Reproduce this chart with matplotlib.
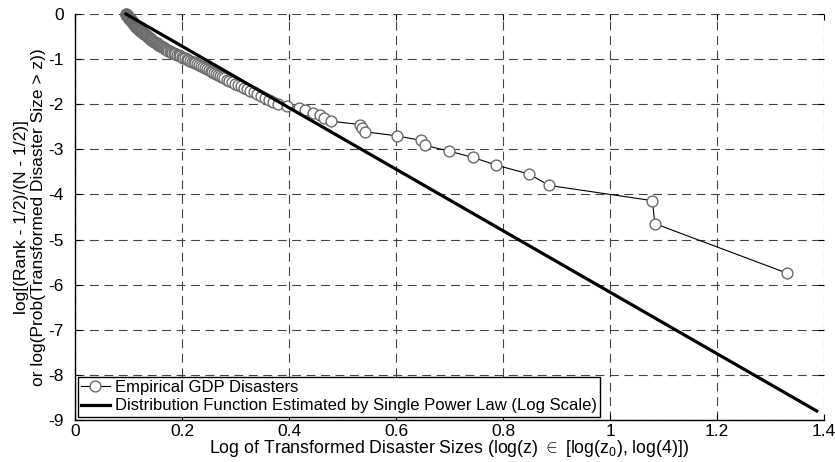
import matplotlib
matplotlib.use("Agg")
import matplotlib.pyplot as plt

plt.rcParams['font.family'] = ['Liberation Sans', 'DejaVu Sans']
plt.rcParams['axes.unicode_minus'] = False
plt.rcParams['mathtext.fontset'] = 'custom'
plt.rcParams['mathtext.rm'] = 'Liberation Sans'
plt.rcParams['mathtext.it'] = 'Liberation Sans'

# Empirical GDP disasters: log transformed size (x) and log empirical survival (y), ascending x
emp_x = [
    0.0953, 0.0957, 0.0962, 0.0966, 0.0971, 0.0975, 0.0980, 0.0984, 0.0988, 0.0993,
    0.0998, 0.1003, 0.1007, 0.1012, 0.1017, 0.1022, 0.1026, 0.1031, 0.1036, 0.1041,
    0.1046, 0.1051, 0.1056, 0.1061, 0.1066, 0.1071, 0.1077, 0.1082, 0.1087, 0.1092,
    0.1098, 0.1103, 0.1109, 0.1114, 0.1120, 0.1125, 0.1130, 0.1137, 0.1142, 0.1148,
    0.1154, 0.1160, 0.1162, 0.1171, 0.1181, 0.1190, 0.1199, 0.1208, 0.1218, 0.1228,
    0.1237, 0.1247, 0.1257, 0.1266, 0.1276, 0.1287, 0.1297, 0.1307, 0.1318, 0.1328,
    0.1339, 0.1350, 0.1360, 0.1371, 0.1382, 0.1394, 0.1405, 0.1416, 0.1428, 0.1440,
    0.1452, 0.1467, 0.1481, 0.1496, 0.1512, 0.1528, 0.1545, 0.1560, 0.1577, 0.1594,
    0.1611, 0.1628, 0.1645, 0.1663, 0.1680, 0.1698, 0.1716, 0.1742, 0.1767, 0.1795,
    0.1822, 0.1849, 0.1877, 0.1906, 0.1935, 0.1964, 0.1993, 0.2024, 0.2055, 0.2086,
    0.2119, 0.2151, 0.2184, 0.2217, 0.2251, 0.2286, 0.2322, 0.2359, 0.2395, 0.2433,
    0.2470, 0.2501, 0.2534, 0.2566, 0.2601, 0.2634, 0.2670, 0.2707, 0.2744, 0.2786,
    0.2835, 0.2885, 0.2936, 0.2990, 0.3044, 0.3099, 0.3157, 0.3218, 0.3279, 0.3344,
    0.3411, 0.3479, 0.3551, 0.3627, 0.3706, 0.3800, 0.3960, 0.4180, 0.4300, 0.4450,
    0.4580, 0.4660, 0.4790, 0.5330, 0.5360, 0.5420, 0.6020, 0.6470, 0.6540, 0.6990,
    0.7440, 0.7870, 0.8490, 0.8860, 1.0790, 1.0840, 1.3310,
]
emp_y = [
    0.000, -0.006, -0.013, -0.019, -0.026, -0.032, -0.039, -0.046, -0.052, -0.059,
    -0.066, -0.073, -0.080, -0.087, -0.094, -0.101, -0.108, -0.115, -0.122, -0.129,
    -0.137, -0.144, -0.151, -0.159, -0.166, -0.174, -0.182, -0.189, -0.197, -0.205,
    -0.213, -0.221, -0.229, -0.237, -0.245, -0.253, -0.261, -0.270, -0.278, -0.287,
    -0.295, -0.304, -0.312, -0.321, -0.330, -0.339, -0.348, -0.357, -0.366, -0.376,
    -0.385, -0.394, -0.404, -0.413, -0.423, -0.433, -0.443, -0.453, -0.463, -0.473,
    -0.484, -0.494, -0.504, -0.515, -0.526, -0.537, -0.548, -0.559, -0.570, -0.581,
    -0.593, -0.605, -0.616, -0.628, -0.640, -0.652, -0.665, -0.677, -0.690, -0.703,
    -0.716, -0.729, -0.742, -0.756, -0.769, -0.783, -0.797, -0.812, -0.826, -0.841,
    -0.856, -0.871, -0.886, -0.902, -0.918, -0.934, -0.950, -0.967, -0.984, -1.001,
    -1.019, -1.037, -1.055, -1.073, -1.092, -1.111, -1.131, -1.151, -1.171, -1.192,
    -1.214, -1.235, -1.258, -1.280, -1.304, -1.327, -1.352, -1.377, -1.402, -1.429,
    -1.456, -1.484, -1.512, -1.542, -1.572, -1.603, -1.635, -1.669, -1.703, -1.739,
    -1.776, -1.814, -1.854, -1.896, -1.940, -1.985, -2.033, -2.083, -2.135, -2.191,
    -2.250, -2.312, -2.379, -2.450, -2.527, -2.611, -2.702, -2.802, -2.913, -3.038,
    -3.181, -3.348, -3.549, -3.800, -4.137, -4.648, -5.746,
]

# Single power law fit (log scale): endpoints log(z0) and log(4)
fit_x = [0.0953, 1.3863]
fit_y = [0.0, -8.80]

x_ticks = [0, 0.2, 0.4, 0.6, 0.8, 1.0, 1.2, 1.4]
x_tick_labels = ['0', '0.2', '0.4', '0.6', '0.8', '1', '1.2', '1.4']
y_ticks = [0, -1, -2, -3, -4, -5, -6, -7, -8, -9]
y_tick_labels = ['0', '-1', '-2', '-3', '-4', '-5', '-6', '-7', '-8', '-9']

labels = ['Empirical GDP Disasters',
          'Distribution Function Estimated by Single Power Law (Log Scale)']

fig = plt.figure(figsize=(8.35, 4.62), dpi=100)
ax = fig.add_axes([75/835, 42/462, (824-75)/835, (420-14)/462])

ax.plot(emp_x, emp_y, color='black', linewidth=0.8, marker='o', markersize=7.8,
        markerfacecolor='white', markeredgecolor='#6a6a6a', markeredgewidth=1.0,
        label=labels[0], zorder=3, clip_on=False)
ax.plot(fit_x, fit_y, color='black', linewidth=2.3, label=labels[1], zorder=4,
        clip_on=False)

ax.set_xlim(0, 1.4)
ax.set_ylim(-9, 0)
ax.set_xticks(x_ticks)
ax.set_xticklabels(x_tick_labels)
ax.set_yticks(y_ticks)
ax.set_yticklabels(y_tick_labels)

ax.grid(True, color='#444444', linestyle=(0, (8, 5)), linewidth=0.8, zorder=0)
ax.set_axisbelow(True)

for s in ['top', 'right']:
    ax.spines[s].set_visible(False)
for s in ['left', 'bottom']:
    ax.spines[s].set_linewidth(1.0)
    ax.spines[s].set_color('black')

ax.tick_params(axis='both', direction='in', length=4, width=0.8,
               top=True, right=True, labelsize=12.5, colors='black')
ax.tick_params(axis='x', pad=3)
ax.tick_params(axis='y', pad=8)

ax.set_xlabel(r'Log of Transformed Disaster Sizes (log(z) $\in$ [log(z$_0$), log(4)])',
              fontsize=12.8, labelpad=-1)
ax.set_ylabel('log[(Rank - 1/2)/(N - 1/2)]\nor log(Prob(Transformed Disaster Size > z))',
              fontsize=12.5, labelpad=2, linespacing=1.15)

leg = ax.legend(loc='lower left', bbox_to_anchor=(0.004, 0.008), fontsize=12,
                handlelength=1.7, handletextpad=0.3, borderpad=0.2,
                labelspacing=0.2, borderaxespad=0, fancybox=False,
                framealpha=1, edgecolor='black', numpoints=1)
leg.get_frame().set_linewidth(1.0)

fig.savefig('out.png', dpi=100)
